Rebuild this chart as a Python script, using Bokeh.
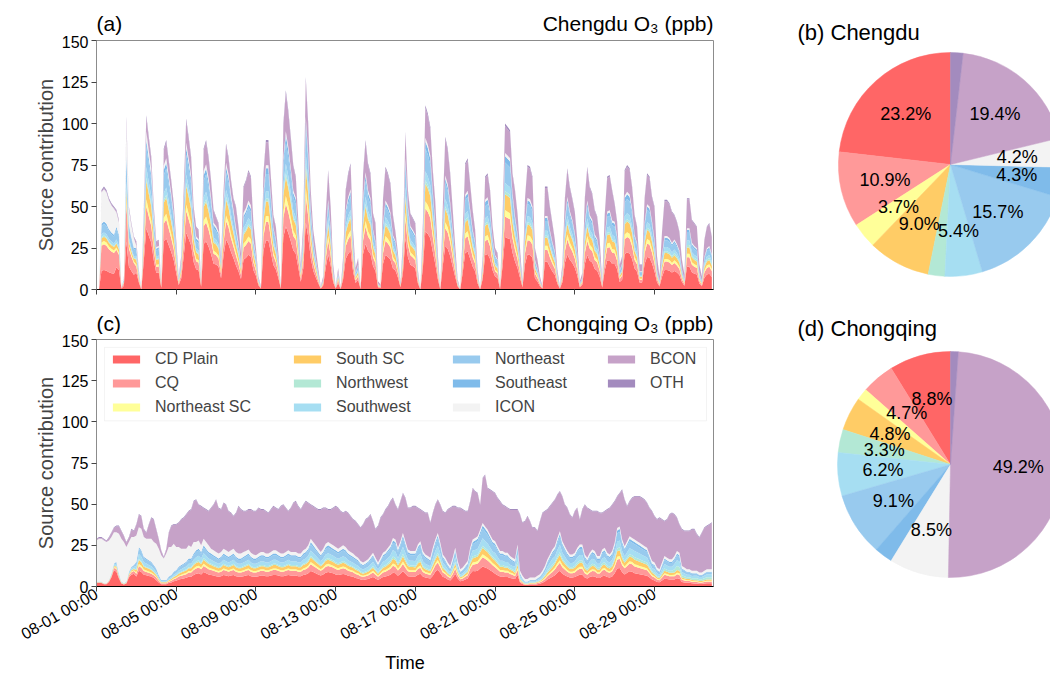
import math
import numpy as np
from bokeh.plotting import figure
from bokeh.layouts import row, column
from bokeh.models import (Range1d, FixedTicker, ColumnDataSource, Legend,
                          LegendItem, BoxAnnotation)
from bokeh.core.properties import value
from bokeh.embed import file_html
from bokeh.resources import INLINE

FONT = "Liberation Sans"

SOURCES = ["CD Plain", "CQ", "Northeast SC", "South SC", "Northwest", "Southwest",
           "Northeast", "Southeast", "ICON", "BCON", "OTH"]
REGIONAL = SOURCES[:8]
COLORS = ["#FF6666", "#FF9999", "#FFFF99", "#FFCC66", "#B3E8D5", "#A6DEF2",
          "#98CAEE", "#7FBBEA", "#F3F3F3", "#C6A2C8", "#A38BBE"]

HOURS = list(range(0, 744, 3))
TICK_DAYS = [0, 4, 8, 12, 16, 20, 24, 28]
TICK_LABELS = ["08-01 00:00", "08-05 00:00", "08-09 00:00", "08-13 00:00",
               "08-17 00:00", "08-21 00:00", "08-25 00:00", "08-29 00:00"]
PANEL_TITLES = [("(a)", "Chengdu O\u2083 (ppb)"), ("(c)", "Chongqing O\u2083 (ppb)")]
PIE_TITLES = ["(b) Chengdu", "(d) Chongqing"]
Y_LABEL = "Source contribution"
X_LABEL = "Time"

# ---- Chengdu total O3 (ppb), 3-hourly, one row per day (00,03,...,21h)
CD_TOTAL = [
    [0, 0, 60, 62, 60, 55, 52, 50],
    [48, 42, 2, 8, 104, 50, 40, 32],
    [29, 12, 0, 50, 105, 92, 80, 50],
    [29, 30, 3, 85, 90, 78, 66, 52],
    [30, 8, 20, 60, 103, 92, 80, 50],
    [38, 36, 5, 85, 90, 80, 66, 48],
    [44, 40, 20, 60, 88, 80, 66, 55],
    [50, 38, 22, 62, 66, 72, 68, 40],
    [25, 8, 2, 70, 90, 90, 68, 45],
    [38, 22, 2, 100, 120, 108, 92, 75],
    [68, 42, 15, 40, 128, 100, 60, 36],
    [25, 13, 2, 8, 45, 72, 50, 15],
    [2, 13, 1, 20, 60, 70, 76, 35],
    [13, 19, 1, 70, 90, 76, 70, 46],
    [40, 5, 3, 55, 74, 70, 64, 45],
    [35, 22, 4, 30, 95, 60, 46, 43],
    [40, 12, 0, 40, 111, 106, 98, 72],
    [53, 22, 0, 50, 92, 85, 70, 48],
    [26, 6, 0, 35, 76, 79, 64, 48],
    [36, 12, 0, 20, 68, 70, 60, 38],
    [25, 22, 1, 45, 100, 98, 96, 70],
    [60, 46, 25, 5, 55, 75, 74, 68],
    [25, 18, 8, 2, 62, 62, 50, 40],
    [30, 12, 2, 15, 55, 73, 62, 55],
    [47, 30, 5, 10, 55, 74, 62, 58],
    [48, 44, 30, 5, 45, 68, 69, 60],
    [52, 41, 15, 20, 72, 75, 73, 62],
    [45, 38, 15, 15, 55, 70, 68, 56],
    [50, 20, 8, 35, 54, 54, 52, 47],
    [45, 41, 35, 18, 9, 55, 55, 42],
    [40, 38, 15, 8, 30, 38, 40, 32],
]

# ---- Chengdu daily source shares (%), one value per day
CD_SHARE = {
    "CD Plain":     [18, 28, 36, 35, 34, 33, 35, 30, 34, 33, 33, 30, 32, 32, 29, 34, 33, 30, 30, 32, 33, 29, 28, 30, 29, 27, 31, 29, 23, 26, 25],
    "CQ":           [24, 22, 13, 13, 13, 13, 13, 12, 13, 12, 13, 12, 13, 12, 12, 13, 13, 12, 12, 13, 13, 12, 12, 13, 12, 12, 13, 12, 10, 11, 11],
    "Northeast SC": [3, 3, 4, 4, 4, 4, 4, 4, 4, 4, 4, 4, 4, 4, 4, 4, 4, 4, 4, 4, 4, 4, 4, 4, 4, 4, 4, 4, 3, 4, 4],
    "South SC":     [4, 5, 11, 11, 11, 10, 11, 9, 10, 10, 10, 9, 10, 10, 9, 10, 10, 9, 9, 10, 10, 9, 8, 9, 8, 8, 9, 8, 7, 7, 7],
    "Northwest":    [1, 1, 2, 2, 2, 2, 2, 2, 2, 2, 2, 2, 2, 2, 2, 2, 2, 2, 2, 2, 2, 2, 2, 2, 2, 2, 2, 2, 2, 3, 3],
    "Southwest":    [3, 4, 6, 5, 5, 5, 5, 5, 5, 5, 5, 5, 5, 5, 5, 5, 5, 5, 5, 5, 5, 5, 5, 5, 5, 5, 5, 5, 5, 5, 5],
    "Northeast":    [8, 13, 12, 13, 12, 12, 12, 9, 12, 11, 12, 10, 11, 11, 9, 13, 13, 11, 11, 11, 13, 10, 10, 11, 10, 10, 12, 11, 8, 9, 9],
    "Southeast":    [2, 3, 4, 4, 4, 4, 4, 3, 4, 4, 4, 3, 4, 4, 3, 4, 4, 3, 3, 4, 4, 3, 3, 3, 3, 3, 4, 3, 3, 3, 3],
    "ICON":         [30, 18, 5, 3, 3, 3, 3, 3, 2, 2, 2, 2, 2, 2, 2, 2, 2, 2, 2, 2, 2, 2, 2, 2, 2, 2, 2, 2, 2, 2, 2],
    "BCON":         [1, 2, 8, 11, 13, 15, 12, 25, 16, 20, 18, 24, 20, 21, 27, 16, 17, 25, 24, 20, 17, 26, 28, 23, 27, 31, 21, 26, 41, 33, 35],
    "OTH":          [1.5, 1.5, 1.5, 1.5, 1.5, 1.5, 1.5, 1.5, 1.5, 1.5, 1.5, 1.5, 1.5, 1.5, 1.5, 1.5, 1.5, 1.5, 1.5, 1.5, 1.5, 1.5, 1.5, 1.5, 1.5, 1.5, 1.5, 1.5, 1.5, 1.5, 1.5],
}

# ---- Chongqing total O3 (ppb), 3-hourly
CQ_TOTAL = [
    [29, 30, 30, 29, 28, 30, 33, 36],
    [37, 37, 34, 31, 27, 30, 35, 34],
    [38, 44, 43, 35, 33, 38, 42, 41],
    [35, 29, 22, 18, 23, 33, 37, 38],
    [38, 39, 41, 42, 44, 46, 47, 52],
    [53, 50, 49, 48, 47, 46, 48, 50],
    [53, 48, 47, 51, 50, 46, 45, 43],
    [45, 49, 47, 46, 46, 47, 47, 46],
    [46, 48, 47, 47, 46, 45, 47, 49],
    [48, 47, 49, 50, 48, 46, 48, 51],
    [52, 49, 47, 50, 52, 51, 50, 49],
    [48, 47, 47, 48, 48, 47, 47, 48],
    [49, 48, 46, 45, 46, 45, 43, 41],
    [40, 38, 36, 38, 41, 42, 44, 40],
    [35, 37, 42, 44, 47, 49, 52, 54],
    [50, 47, 52, 57, 54, 48, 48, 49],
    [49, 48, 47, 46, 45, 45, 39, 45],
    [50, 53, 50, 46, 45, 47, 48, 49],
    [49, 48, 48, 47, 46, 46, 52, 60],
    [58, 57, 50, 66, 68, 60, 59, 58],
    [57, 54, 52, 50, 49, 48, 47, 47],
    [47, 47, 44, 39, 40, 43, 40, 36],
    [36, 34, 40, 45, 46, 47, 49, 51],
    [53, 56, 58, 55, 50, 48, 44, 42],
    [46, 48, 41, 47, 50, 48, 47, 46],
    [46, 46, 45, 45, 46, 47, 48, 50],
    [52, 55, 57, 59, 53, 49, 52, 54],
    [55, 55, 55, 54, 53, 51, 48, 46],
    [43, 41, 42, 41, 40, 41, 44, 45],
    [44, 42, 38, 35, 34, 34, 34, 35],
    [35, 32, 30, 33, 36, 37, 38, 39],
]

# ---- Chongqing sum of the eight regional sources (ppb), 3-hourly
CQ_REGIONAL = [
    [3, 3, 3, 2, 2, 4, 8, 14],
    [15, 8, 3, 2, 3, 9, 12, 13],
    [15, 24, 22, 18, 17, 16, 15, 13],
    [11, 7, 4, 4, 4, 6, 7, 9],
    [10, 12, 13, 14, 15, 17, 17, 20],
    [22, 23, 21, 25, 23, 21, 20, 19],
    [18, 17, 18, 20, 19, 18, 19, 20],
    [18, 17, 17, 18, 19, 20, 18, 17],
    [17, 18, 19, 19, 18, 18, 19, 20],
    [20, 19, 18, 18, 19, 20, 19, 19],
    [19, 18, 18, 20, 21, 23, 27, 25],
    [23, 21, 19, 21, 24, 25, 24, 23],
    [22, 21, 22, 23, 22, 20, 19, 18],
    [17, 16, 14, 13, 14, 15, 17, 19],
    [16, 13, 16, 19, 20, 22, 24, 28],
    [27, 22, 26, 31, 26, 21, 20, 20],
    [20, 24, 26, 20, 18, 17, 16, 22],
    [27, 31, 25, 18, 16, 13, 11, 16],
    [22, 14, 9, 10, 12, 14, 22, 27],
    [28, 29, 33, 37, 35, 33, 30, 27],
    [26, 23, 20, 20, 19, 19, 17, 16],
    [15, 24, 8, 5, 3, 3, 4, 4],
    [4, 5, 6, 8, 11, 15, 18, 21],
    [23, 28, 32, 26, 23, 20, 18, 18],
    [19, 22, 24, 24, 18, 16, 19, 21],
    [20, 17, 17, 21, 22, 19, 18, 20],
    [25, 34, 35, 27, 23, 26, 29, 28],
    [27, 26, 25, 24, 23, 22, 18, 14],
    [13, 10, 9, 13, 17, 16, 15, 15],
    [17, 20, 19, 11, 10, 9, 9, 8],
    [8, 8, 7, 7, 8, 9, 9, 9],
]

# ---- Chongqing ICON contribution (ppb), 3-hourly
CQ_ICON = [
    [25, 26, 26, 26, 25, 24, 22, 19],
    [18, 24, 26, 25, 21, 18, 18, 17],
    [16, 12, 13, 12, 12, 13, 14, 14],
    [15, 16, 15, 13, 16, 18, 17, 17],
    [14, 12, 10, 9, 8, 8, 7, 7],
    [5, 5, 4, 4, 4, 4, 3, 3],
    [3, 3, 3, 3, 3, 3, 3, 3],
    [3, 3, 3, 3, 2.5, 2.5, 2.5, 2.5],
    [2, 2, 2, 2, 2, 2, 2, 2],
    [2, 2, 2, 2, 2, 2, 2, 2],
    [2, 2, 2, 2, 2, 2, 2, 2],
    [2, 2, 2, 2, 2, 2, 2, 2],
    [2, 2, 2, 2, 2, 2, 2, 2],
    [1.5, 1.5, 1.5, 1.5, 1.5, 1.5, 1.5, 1.5],
    [1.5, 1.5, 1.5, 1.5, 1.5, 1.5, 1.5, 1.5],
    [1.5, 1.5, 1.5, 1.5, 1.5, 1.5, 1.5, 1.5],
    [1.5, 1.5, 1.5, 1.5, 1.5, 1.5, 1.5, 1.5],
    [1.5, 1.5, 1.5, 1.5, 1.5, 1.5, 1.5, 1.5],
    [1.5, 1.5, 1.5, 1.5, 1.5, 1.5, 1.5, 1.5],
    [1.5, 1.5, 1.5, 1.5, 1.5, 1.5, 1.5, 1.5],
    [1.5, 1.5, 1.5, 1.5, 1.5, 1.5, 1.5, 1.5],
    [1.5, 1.5, 1.5, 1.5, 1.5, 1.5, 1.5, 1.5],
    [1.5, 1.5, 1.5, 1.5, 1.5, 1.5, 1.5, 1.5],
    [1.5, 1.5, 1.5, 1.5, 1.5, 1.5, 1.5, 1.5],
    [1.5, 1.5, 1.5, 1.5, 1.5, 1.5, 1.5, 1.5],
    [1.5, 1.5, 1.5, 1.5, 1.5, 1.5, 1.5, 1.5],
    [1.5, 1.5, 1.5, 1.5, 1.5, 1.5, 1.5, 1.5],
    [1.5, 1.5, 1.5, 1.5, 1.5, 1.5, 1.5, 1.5],
    [1.5, 1.5, 1.5, 1.5, 1.5, 1.5, 1.5, 1.5],
    [1.5, 1.5, 1.5, 1.5, 1.5, 1.5, 1.5, 1.5],
    [1.5, 1.5, 1.5, 1.5, 1.5, 1.5, 1.5, 1.5],
]

# ---- Chongqing OTH (ppb), daily
CQ_OTH = [0.5] * 31

# ---- Chongqing daily shares (%) of the regional sum
CQ_SHARE = {
    "CD Plain":     [70, 60, 40, 35, 35, 35, 35, 35, 35, 35, 35, 35, 33, 30, 30, 30, 30, 33, 35, 33, 30, 30, 28, 30, 30, 30, 32, 30, 28, 25, 22],
    "CQ":           [10, 12, 12, 14, 15, 15, 15, 15, 15, 15, 15, 15, 15, 15, 15, 14, 14, 14, 14, 15, 15, 12, 14, 15, 15, 16, 16, 15, 14, 12, 12],
    "Northeast SC": [3, 4, 5, 5, 5, 5, 5, 5, 5, 5, 5, 5, 5, 5, 5, 5, 5, 5, 5, 5, 5, 5, 5, 5, 5, 5, 5, 5, 5, 5, 5],
    "South SC":     [5, 6, 10, 10, 10, 10, 10, 10, 10, 10, 10, 10, 10, 10, 10, 10, 9, 9, 9, 10, 10, 8, 9, 10, 10, 10, 10, 10, 9, 8, 8],
    "Northwest":    [1, 2, 3, 3, 4, 4, 4, 4, 4, 4, 4, 4, 4, 5, 5, 5, 5, 5, 5, 4, 5, 8, 7, 5, 6, 6, 5, 6, 8, 12, 15],
    "Southwest":    [6, 8, 12, 13, 12, 12, 12, 12, 12, 12, 12, 12, 13, 14, 14, 14, 14, 14, 13, 12, 13, 18, 17, 14, 14, 14, 12, 14, 16, 18, 20],
    "Northeast":    [4, 6, 14, 15, 14, 14, 14, 14, 14, 14, 14, 14, 15, 16, 16, 17, 18, 15, 14, 16, 17, 14, 15, 16, 15, 14, 15, 15, 15, 15, 14],
    "Southeast":    [1, 2, 4, 5, 5, 5, 5, 5, 5, 5, 5, 5, 5, 5, 5, 5, 5, 5, 5, 5, 5, 5, 5, 5, 5, 5, 5, 5, 5, 5, 4],
}

# ---- Pie shares (%)
PIE_CD = [23.2, 10.9, 3.7, 9.0, 2.4, 5.4, 15.7, 4.3, 4.2, 19.4, 1.8]
PIE_CQ = [8.8, 4.7, 1.7, 4.8, 3.3, 6.2, 9.1, 2.6, 8.5, 49.2, 1.1]


def flat(rows):
    return np.array([v for r in rows for v in r], dtype=float)


x = np.array(HOURS, dtype=float) / 24.0
day_idx = np.array(HOURS) // 24

# Chengdu stack
cd_total = flat(CD_TOTAL)
sh = np.array([CD_SHARE[s] for s in SOURCES], dtype=float)
sh = sh / sh.sum(axis=0)
cd_data = {"x": x}
for i, s in enumerate(SOURCES):
    cd_data[s] = cd_total * sh[i, day_idx]

# Chongqing stack
cq_total = flat(CQ_TOTAL)
cq_reg = flat(CQ_REGIONAL)
cq_icon = flat(CQ_ICON)
cq_oth = np.array(CQ_OTH, dtype=float)[day_idx]
rs = np.array([CQ_SHARE[s] for s in REGIONAL], dtype=float)
rs = rs / rs.sum(axis=0)
cq_data = {"x": x}
for i, s in enumerate(REGIONAL):
    cq_data[s] = cq_reg * rs[i, day_idx]
cq_data["ICON"] = cq_icon
cq_data["BCON"] = np.maximum(cq_total - cq_reg - cq_icon - cq_oth, 0)
cq_data["OTH"] = cq_oth

XEND = 743 / 24.0
XR = Range1d(0, XEND)
LEFT_W, FRAME_W, RIGHT_W = 96, 617, 67
FIG_W = LEFT_W + FRAME_W + RIGHT_W


def strip(height):
    p = figure(width=FIG_W, height=height, x_range=XR, y_range=Range1d(0, height),
               output_backend="svg", toolbar_location=None,
               min_border_left=LEFT_W, min_border_right=RIGHT_W,
               min_border_top=0, min_border_bottom=0,
               x_axis_location=None, y_axis_location=None)
    p.xgrid.visible = False
    p.ygrid.visible = False
    p.outline_line_color = None
    return p


def title_strip(height, ymid, left, right):
    p = strip(height)
    p.text(x=[0], y=[ymid], text=[left], text_align="left", text_baseline="middle",
           text_font=value(FONT), text_font_size="21px", text_color="black")
    p.text(x=[XEND], y=[ymid], text=[right], text_align="right", text_baseline="middle",
           text_font=value(FONT), text_font_size="21px", text_color="black")
    return p


def ts_fig(height, top, bottom, show_labels):
    p = figure(width=FIG_W, height=height, x_range=XR, y_range=Range1d(0, 150),
               output_backend="svg", toolbar_location=None,
               min_border_left=LEFT_W, min_border_right=RIGHT_W,
               min_border_top=top, min_border_bottom=bottom)
    p.xgrid.visible = False
    p.ygrid.visible = False
    p.outline_line_color = "#8c8c8c"
    p.yaxis.ticker = FixedTicker(ticks=[0, 25, 50, 75, 100, 125, 150])
    p.xaxis.ticker = FixedTicker(ticks=TICK_DAYS)
    for ax in (p.xaxis[0], p.yaxis[0]):
        ax.major_tick_in = 0
        ax.major_tick_out = 5
        ax.minor_tick_in = 0
        ax.minor_tick_out = 0
        ax.major_tick_line_color = "#444444"
        ax.major_label_text_font = FONT
        ax.major_label_text_color = "black"
    p.xaxis.axis_line_color = "black"
    p.yaxis.axis_line_color = "#8c8c8c"
    p.yaxis.major_label_text_font_size = "16px"
    p.yaxis.major_label_standoff = 3
    p.yaxis.axis_label = Y_LABEL
    p.yaxis.axis_label_text_font = FONT
    p.yaxis.axis_label_text_font_size = "20px"
    p.yaxis.axis_label_text_font_style = "normal"
    p.yaxis.axis_label_standoff = 2
    if show_labels:
        p.xaxis.major_label_overrides = {d: l for d, l in zip(TICK_DAYS, TICK_LABELS)}
        p.xaxis.major_label_orientation = math.pi / 6
        p.xaxis.major_label_text_font_size = "16px"
        p.xaxis.major_label_standoff = 1
    else:
        p.xaxis.major_label_overrides = {d: "" for d in TICK_DAYS}
        p.xaxis.major_label_text_font_size = "0px"
        p.xaxis.major_label_standoff = 0
    return p


ta = title_strip(35, 12, *PANEL_TITLES[0])
fa = ts_fig(270, 5, 16, False)
fa.varea_stack(stackers=SOURCES, x="x", color=COLORS, source=ColumnDataSource(cd_data))

tc = title_strip(29, 11, *PANEL_TITLES[1])
fc = ts_fig(318, 5, 64, True)
rends = fc.varea_stack(stackers=SOURCES, x="x", color=COLORS, source=ColumnDataSource(cq_data))

tt = strip(20)
tt.text(x=[XEND / 2], y=[10], text=[X_LABEL], text_align="center", text_baseline="middle",
        text_font=value(FONT), text_font_size="18px", text_color="black")

# legend: one frame, four columns
fc.add_layout(BoxAnnotation(left=0.40, right=30.61, bottom=100.6, top=145.2,
                            fill_color="white", fill_alpha=0.85,
                            line_color="#d6d6d6", line_width=1))
LEG_COLS = [[0, 1, 2], [3, 4, 5], [6, 7, 8], [9, 10]]
LEG_X = [13, 194, 353, 508]
for cols, lx in zip(LEG_COLS, LEG_X):
    items = [LegendItem(label=SOURCES[i], renderers=[rends[i]]) for i in cols]
    h = 19 * len(cols) + 5 * (len(cols) - 1)
    leg = Legend(items=items, location=(lx, 249 - 12 - h),
                 orientation="vertical", padding=0, margin=0, spacing=5,
                 glyph_width=34, glyph_height=10, label_standoff=12, label_height=19,
                 label_text_font=FONT, label_text_font_size="16px",
                 border_line_color=None, background_fill_alpha=0)
    fc.add_layout(leg)


def pie_fig(height, cx, cy, r, vals, title, ty):
    p = figure(width=270, height=height, x_range=Range1d(0, 270), y_range=Range1d(0, height),
               min_border=0, toolbar_location=None, output_backend="svg",
               x_axis_location=None, y_axis_location=None)
    p.xgrid.visible = False
    p.ygrid.visible = False
    p.outline_line_color = None
    tot = float(sum(vals))
    cum = np.concatenate([[0.0], np.cumsum(vals)]) / tot
    start = math.pi / 2 + 2 * math.pi * cum[:-1]
    end = math.pi / 2 + 2 * math.pi * cum[1:]
    src = ColumnDataSource(dict(start=start, end=end, color=COLORS))
    p.wedge(x=cx, y=cy, radius=r, start_angle="start", end_angle="end",
            fill_color="color", line_color="color", line_width=0.5, source=src)
    mid = (start + end) / 2
    keep = [i for i, v in enumerate(vals) if v >= 3]
    tx = [cx + 0.6 * r * math.cos(mid[i]) for i in keep]
    tyy = [cy + 0.6 * r * math.sin(mid[i]) for i in keep]
    tt_ = [f"{vals[i]:.1f}%" for i in keep]
    p.text(x=tx, y=tyy, text=tt_, text_align="center", text_baseline="middle",
           text_font=value(FONT), text_font_size="18px", text_color="black")
    p.text(x=[17], y=[ty], text=[title], text_align="left", text_baseline="middle",
           text_font=value(FONT), text_font_size="22px", text_color="black")
    return p


pb = pie_fig(305, 170, 141, 112, PIE_CD, PIE_TITLES[0], 273)
pd_ = pie_fig(367, 170, 208, 113, PIE_CQ, PIE_TITLES[1], 344)

layout = row(column(ta, fa, tc, fc, tt), column(pb, pd_))
open("out.html", "w").write(file_html(layout, INLINE))
